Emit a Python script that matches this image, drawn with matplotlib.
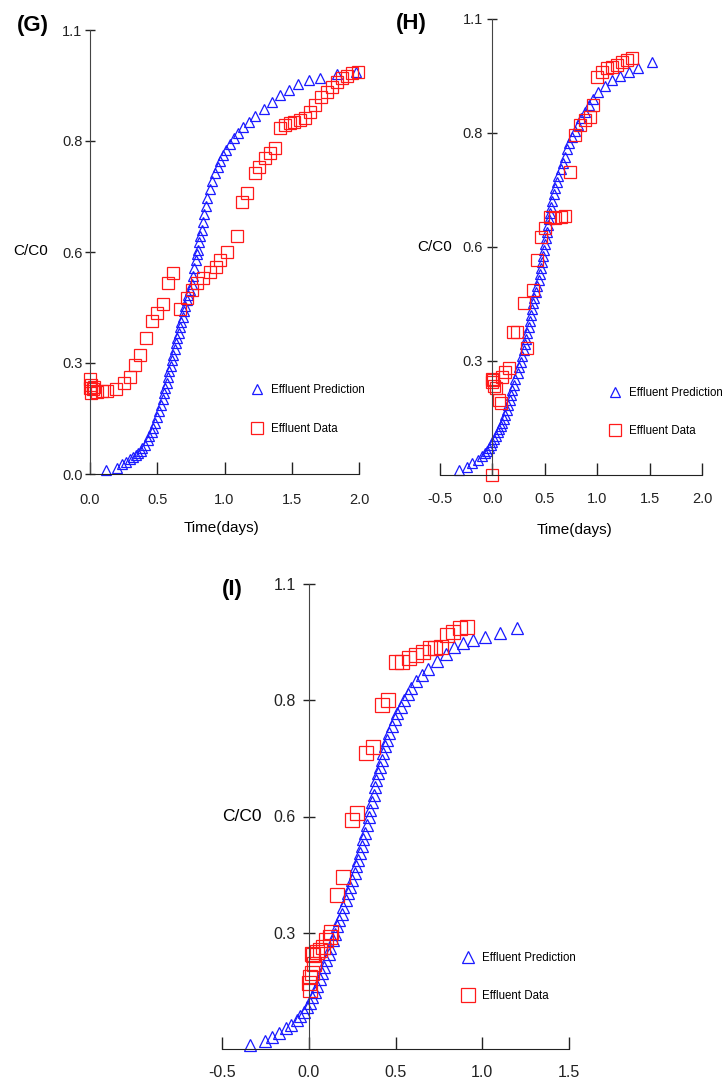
import matplotlib
matplotlib.use('Agg')
import matplotlib.pyplot as plt

plt.rcParams['font.family'] = ['Liberation Sans', 'DejaVu Sans']

# ---- data ----
# (G)
g_pred_x = [0.12, 0.20, 0.24, 0.27, 0.30, 0.32, 0.34, 0.36, 0.38, 0.39, 0.41, 0.43, 0.44, 0.46,
            0.47, 0.48, 0.50, 0.51, 0.53, 0.54, 0.55, 0.56, 0.57, 0.58, 0.59, 0.60, 0.61, 0.62,
            0.63, 0.64, 0.65, 0.66, 0.67, 0.68, 0.69, 0.70, 0.71, 0.72, 0.73, 0.74, 0.755, 0.765,
            0.775, 0.785, 0.795, 0.80, 0.81, 0.82, 0.83, 0.84, 0.85, 0.86, 0.87, 0.89, 0.91, 0.93,
            0.95, 0.97, 0.99, 1.01, 1.04, 1.07, 1.10, 1.14, 1.18, 1.23, 1.29, 1.35, 1.41, 1.48,
            1.55, 1.63, 1.71, 1.84, 1.98]
g_pred_y = [0.01, 0.015, 0.025, 0.03, 0.036, 0.041, 0.047, 0.053, 0.058, 0.064, 0.073, 0.083, 0.093,
            0.105, 0.115, 0.127, 0.14, 0.155, 0.17, 0.185, 0.2, 0.213, 0.226, 0.24, 0.254, 0.268,
            0.282, 0.296, 0.31, 0.324, 0.337, 0.35, 0.363, 0.377, 0.39, 0.403, 0.416, 0.43, 0.443,
            0.456, 0.47, 0.49, 0.51, 0.53, 0.545, 0.555, 0.575, 0.59, 0.605, 0.625, 0.645, 0.665,
            0.685, 0.705, 0.725, 0.745, 0.76, 0.775, 0.79, 0.803, 0.817, 0.832, 0.846, 0.86, 0.873,
            0.888, 0.905, 0.922, 0.938, 0.952, 0.965, 0.975, 0.982, 0.99, 0.996]
g_data_x = [0.0, 0.0, 0.01, 0.01, 0.02, 0.03, 0.05, 0.09, 0.125, 0.19, 0.25, 0.30, 0.335, 0.37,
            0.42, 0.46, 0.50, 0.545, 0.58, 0.62, 0.67, 0.72, 0.76, 0.795, 0.84, 0.89, 0.94, 0.97,
            1.02, 1.09, 1.13, 1.17, 1.23, 1.26, 1.30, 1.34, 1.375, 1.41, 1.45, 1.49, 1.52, 1.56,
            1.60, 1.635, 1.67, 1.72, 1.76, 1.80, 1.84, 1.87, 1.91, 1.95, 1.99]
g_data_y = [0.235, 0.213, 0.2, 0.22, 0.21, 0.215, 0.203, 0.205, 0.205, 0.21, 0.225, 0.24, 0.27,
            0.295, 0.337, 0.38, 0.4, 0.42, 0.473, 0.497, 0.41, 0.436, 0.456, 0.473, 0.486, 0.5,
            0.513, 0.53, 0.55, 0.59, 0.674, 0.696, 0.746, 0.76, 0.783, 0.795, 0.808, 0.857, 0.865,
            0.87, 0.872, 0.877, 0.882, 0.897, 0.914, 0.934, 0.946, 0.959, 0.971, 0.981, 0.986,
            0.993, 0.996]

# (H)
h_pred_x = [-0.32, -0.24, -0.19, -0.14, -0.10, -0.07, -0.05, -0.03, -0.01, 0.0, 0.02, 0.03, 0.05,
            0.06, 0.08, 0.09, 0.11, 0.12, 0.14, 0.15, 0.17, 0.18, 0.19, 0.21, 0.22, 0.24, 0.25,
            0.27, 0.28, 0.30, 0.31, 0.32, 0.33, 0.345, 0.36, 0.37, 0.38, 0.39, 0.40, 0.415, 0.43,
            0.44, 0.45, 0.46, 0.47, 0.48, 0.49, 0.50, 0.51, 0.52, 0.53, 0.54, 0.55, 0.56, 0.57,
            0.585, 0.60, 0.615, 0.63, 0.65, 0.67, 0.69, 0.71, 0.73, 0.76, 0.79, 0.82, 0.85, 0.88,
            0.92, 0.96, 1.01, 1.07, 1.14, 1.22, 1.30, 1.39, 1.52]
h_pred_y = [0.012, 0.02, 0.03, 0.037, 0.046, 0.052, 0.058, 0.065, 0.072, 0.08, 0.088, 0.095, 0.103,
            0.11, 0.118, 0.125, 0.135, 0.145, 0.157, 0.168, 0.18, 0.192, 0.205, 0.218, 0.232,
            0.246, 0.26, 0.273, 0.287, 0.301, 0.315, 0.329, 0.343, 0.357, 0.371, 0.385, 0.4,
            0.414, 0.428, 0.442, 0.456, 0.47, 0.485, 0.5, 0.514, 0.528, 0.543, 0.557, 0.572,
            0.587, 0.602, 0.617, 0.632, 0.647, 0.662, 0.677, 0.692, 0.707, 0.722, 0.737, 0.752,
            0.768, 0.786, 0.8, 0.815, 0.83, 0.845, 0.86, 0.876, 0.892, 0.908, 0.923, 0.938,
            0.952, 0.962, 0.971, 0.982, 0.996]
h_data_x = [0.0, 0.0, 0.0, 0.01, 0.02, 0.03, 0.06, 0.08, 0.09, 0.12, 0.155, 0.20, 0.235, 0.33,
            0.30, 0.39, 0.43, 0.46, 0.50, 0.55, 0.60, 0.65, 0.695, 0.74, 0.79, 0.84, 0.885, 0.93,
            0.96, 1.0, 1.05, 1.09, 1.14, 1.19, 1.24, 1.28, 1.33]
h_data_y = [0.0, 0.225, 0.232, 0.23, 0.215, 0.21, 0.18, 0.174, 0.236, 0.248, 0.258, 0.345, 0.345,
            0.306, 0.415, 0.446, 0.519, 0.574, 0.596, 0.622, 0.62, 0.622, 0.625, 0.731, 0.82,
            0.844, 0.856, 0.864, 0.893, 0.96, 0.972, 0.982, 0.984, 0.989, 0.996, 1.0, 1.006]

# (I)
i_pred_x = [-0.34, -0.25, -0.21, -0.17, -0.13, -0.10, -0.07, -0.05, -0.03, -0.01, 0.005, 0.02,
            0.035, 0.05, 0.065, 0.075, 0.09, 0.10, 0.115, 0.125, 0.14, 0.15, 0.165, 0.175, 0.19,
            0.20, 0.215, 0.225, 0.24, 0.25, 0.265, 0.275, 0.285, 0.295, 0.305, 0.315, 0.325,
            0.335, 0.345, 0.355, 0.365, 0.375, 0.38, 0.39, 0.40, 0.41, 0.42, 0.43, 0.44, 0.45,
            0.465, 0.48, 0.495, 0.51, 0.53, 0.55, 0.57, 0.59, 0.62, 0.65, 0.69, 0.74, 0.79, 0.84,
            0.89, 0.945, 1.015, 1.10, 1.20]
i_pred_y = [0.01, 0.02, 0.028, 0.038, 0.05, 0.057, 0.069, 0.077, 0.087, 0.1, 0.11, 0.122, 0.136,
            0.15, 0.165, 0.18, 0.195, 0.21, 0.225, 0.24, 0.258, 0.273, 0.29, 0.305, 0.32, 0.336,
            0.352, 0.368, 0.384, 0.4, 0.416, 0.432, 0.448, 0.464, 0.48, 0.496, 0.512, 0.53, 0.548,
            0.566, 0.584, 0.602, 0.62, 0.636, 0.652, 0.668, 0.684, 0.7, 0.716, 0.732, 0.748, 0.764,
            0.78, 0.795, 0.81, 0.825, 0.84, 0.855, 0.87, 0.885, 0.9, 0.918, 0.935, 0.951, 0.96,
            0.968, 0.975, 0.984, 0.996]
i_data_x = [0.0, 0.005, 0.01, 0.02, 0.03, 0.02, 0.025, 0.045, 0.065, 0.085, 0.10, 0.12, 0.13,
            0.16, 0.20, 0.25, 0.28, 0.33, 0.37, 0.42, 0.455, 0.50, 0.54, 0.58, 0.62, 0.66, 0.70,
            0.73, 0.765, 0.795, 0.83, 0.87, 0.91]
i_data_y = [0.156, 0.14, 0.17, 0.18, 0.2, 0.225, 0.222, 0.23, 0.234, 0.241, 0.258, 0.265, 0.277,
            0.364, 0.407, 0.542, 0.558, 0.7, 0.715, 0.814, 0.826, 0.916, 0.916, 0.925, 0.932,
            0.94, 0.948, 0.948, 0.951, 0.98, 0.987, 0.996, 0.998]

ytick_pos = [0, 0.275, 0.55, 0.825, 1.1]
ytick_lab = ['0.0', '0.3', '0.6', '0.8', '1.1']

W, H = 724, 1083
fig = plt.figure(figsize=(W / 100, H / 100), dpi=100)


def panel(box, xlim, xticks, pred, data, name, lab_pos, ylab_pos, xlab_pos, leg_pos,
          fs=10.5, lfs=11, legfs=8.3, ysize=7, ypad=16.7, xpad=13.5, zero_label=True,
          mk=(7.5, 9)):
    l, t, w, h = box
    ax = fig.add_axes([l / W, 1 - (t + h) / H, w / W, h / H])
    ax.plot(pred[0], pred[1], ls='none', marker='^', ms=mk[0], mfc='none', mec='#1a1aff',
            mew=0.9, clip_on=False, label='Effluent Prediction')
    ax.plot(data[0], data[1], ls='none', marker='s', ms=mk[1], mfc='none', mec='#ff1a1a',
            mew=0.9, clip_on=False, label='Effluent Data')
    ax.set_xlim(*xlim)
    ax.set_ylim(0, 1.1)
    for s in ['top', 'right']:
        ax.spines[s].set_visible(False)
    ax.spines['left'].set_color('#444444')
    ax.spines['bottom'].set_color('#222222')
    if xlim[0] < 0:
        ax.spines['left'].set_position(('data', 0))
    ax.set_xticks(xticks, ['%.1f' % v for v in xticks], fontsize=fs)
    if zero_label:
        ax.set_yticks(ytick_pos, ytick_lab, fontsize=fs)
    else:
        ax.set_yticks(ytick_pos[1:], ytick_lab[1:], fontsize=fs)
    for tl in ax.get_yticklabels():
        tl.set_horizontalalignment('left')
    ax.tick_params(axis='y', direction='inout', length=ysize, width=1, pad=ypad, colors='#222222')
    ax.tick_params(axis='x', direction='in', length=9, width=1, pad=xpad, colors='#222222')
    ax.set_ylabel('C/C0', rotation=0, fontsize=lfs, va='center', ha='center')
    ax.yaxis.set_label_coords(*ylab_pos)
    if xlab_pos is not None:
        ax.set_xlabel('Time(days)', fontsize=lfs)
        ax.xaxis.set_label_coords(*xlab_pos)
        ax.xaxis.label.set_va('center')
    ax.legend(loc='upper left', bbox_to_anchor=leg_pos, frameon=False, fontsize=legfs,
              borderpad=0, handlelength=1.4, handletextpad=0.5, labelspacing=2.3,
              borderaxespad=0)
    fig.text(lab_pos[0] / W, 1 - lab_pos[1] / H, name, fontsize=16, fontweight='bold',
             ha='center', va='center')
    return ax


panel((90, 30, 269, 444), (0, 2.0), [0, 0.5, 1.0, 1.5, 2.0], (g_pred_x, g_pred_y),
      (g_data_x, g_data_y), '(G)', (33, 25), (-0.219, 0.502), (0.49, -0.122),
      (0.591, 0.202))
panel((440, 19, 262, 456), (-0.5, 2.0), [-0.5, 0, 0.5, 1.0, 1.5, 2.0], (h_pred_x, h_pred_y),
      (h_data_x, h_data_y), '(H)', (411, 23), (-0.019, 0.5), (0.515, -0.121),
      (0.637, 0.194), ypad=18.1, xpad=12, zero_label=False)
panel((222, 584, 347, 465), (-0.5, 1.5), [-0.5, 0, 0.5, 1.0, 1.5], (i_pred_x, i_pred_y),
      (i_data_x, i_data_y), '(I)', (232, 590), (0.058, 0.499), None,
      (0.686, 0.209), fs=11.5, lfs=12.5, ysize=9, ypad=20.7, xpad=11.5, zero_label=False,
      mk=(9, 10))

fig.savefig('out.png', dpi=100)
